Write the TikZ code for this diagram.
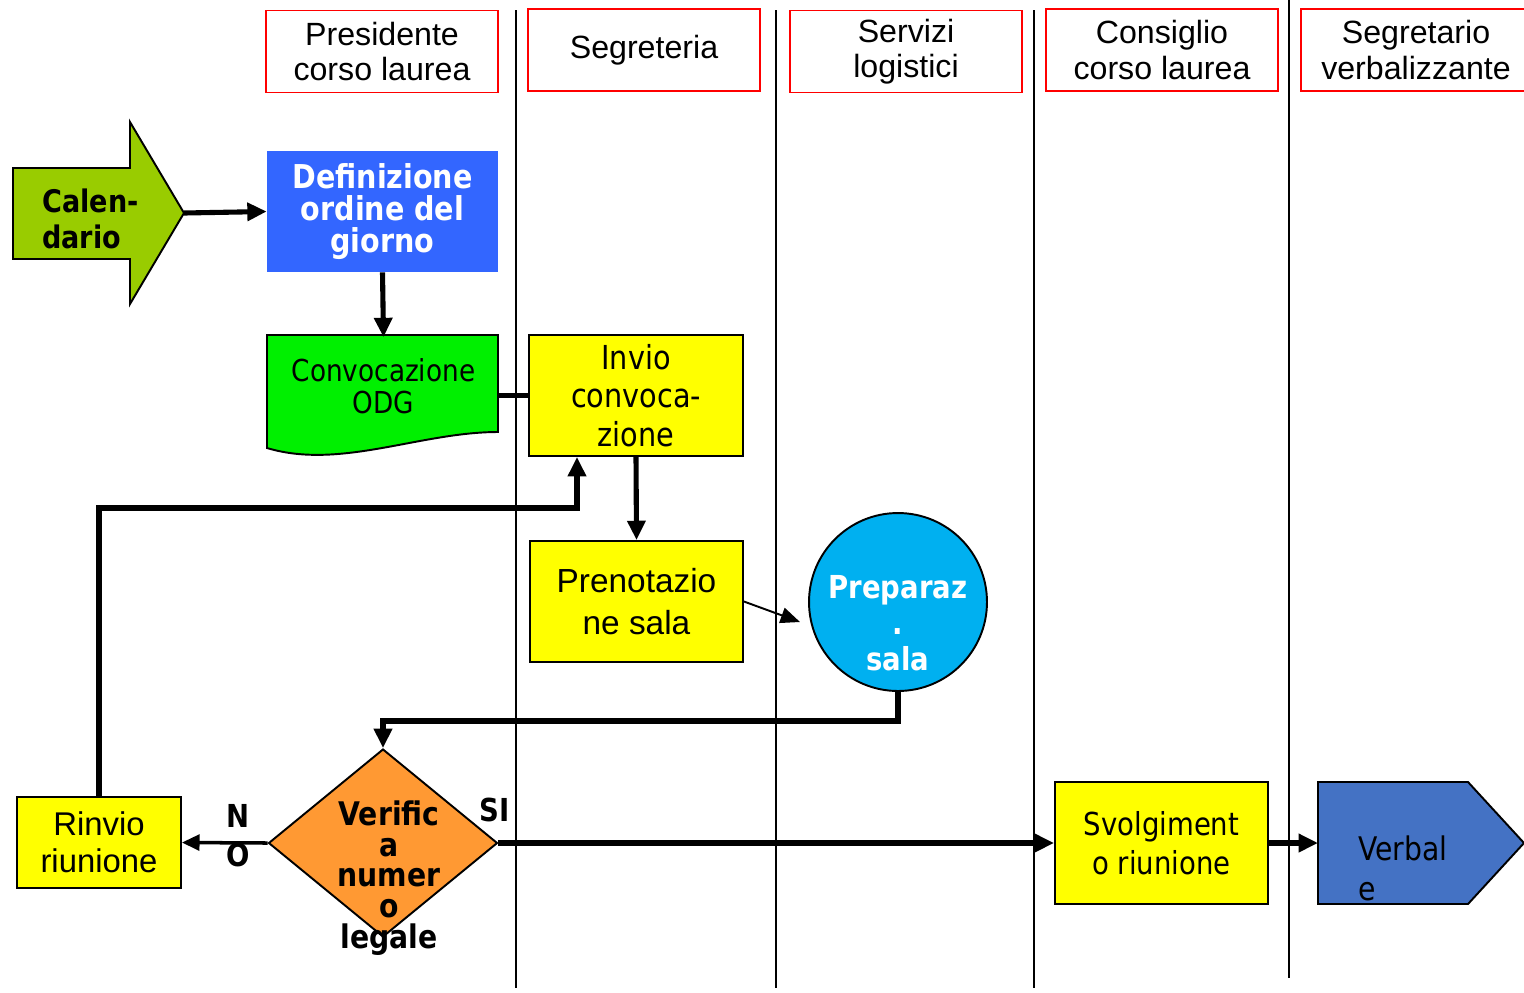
\documentclass[tikz,border=0pt]{standalone}
\usepackage{fontspec}
\setmainfont{Liberation Sans}
\newfontfamily\tah[FakeStretch=0.87]{DejaVu Sans}
\usetikzlibrary{arrows.meta,shapes.geometric}
\definecolor{calgreen}{HTML}{99CC00}
\definecolor{defblue}{HTML}{3366FF}
\definecolor{odggreen}{HTML}{00F000}
\definecolor{yel}{HTML}{FFFF00}
\definecolor{salacyan}{HTML}{00B0F0}
\definecolor{verorange}{HTML}{FF9933}
\definecolor{verbblue}{HTML}{4472C4}
\begin{document}
\begin{tikzpicture}[x=0.02cm,y=-0.02cm,
		lane/.style={line width=1.1pt},
		head/.style={draw=red,line width=1.1pt,minimum width=4.64cm,minimum height=1.64cm,align=center,inner sep=0pt,font=\fontsize{18.3pt}{20pt}\selectfont},
		box/.style={draw,line width=1.1pt,fill=yel,align=center,inner sep=0pt},
		link/.style={line width=2.9pt,-{Triangle[length=11pt,width=10pt]}},
	]
		\useasboundingbox (0,0) rectangle (1524,992);
		\draw[lane] (516,10) -- (516,988);
		\draw[lane] (776,10) -- (776,988);
		\draw[lane] (1034,10) -- (1034,988);
		\draw[lane] (1289,0) -- (1289,978);
		\node[head] (pres) at (382,51.5) {Presidente\\corso laurea};
		\node[head] (segr) at (644,50) {Segreteria};
		\node[head] (serv) at (906,51.5) {Servizi\\logistici};
		\node[head] (cons) at (1162,50) {Consiglio\\corso laurea};
		\node[head,minimum width=4.6cm] (verb) at (1416,50) {Segretario\\verbalizzante};
		\draw[line width=1.1pt,fill=calgreen] (13,168) -- (130,168) -- (130,122) -- (184,213) -- (130,304) -- (130,259) -- (13,259) -- cycle;
		\coordinate (cal) at (184,213);
		\node[anchor=west,align=left,inner sep=0pt,font=\tah\bfseries\fontsize{17.7pt}{20.5pt}\selectfont] (caltxt) at (42,219) {Calen-\\dario};
		\node[fill=defblue,text=white,align=center,inner sep=0pt,minimum width=4.62cm,minimum height=2.42cm,font=\tah\bfseries\fontsize{18.7pt}{18pt}\selectfont] (def) at (382.5,211.5) {Definizione\\ordine del\\giorno};
		\draw[line width=1.1pt,fill=odggreen] (267,335) -- (498,335) -- (498,432) .. controls (420,432) and (340,470) .. (267,448) -- cycle;
		\node[align=center,inner sep=0pt,minimum width=4.62cm,minimum height=1.94cm,font=\tah\fontsize{17.2pt}{18pt}\selectfont] (odg) at (383.5,386) {Convocazione\\ODG};
		\node[box,minimum width=4.28cm,minimum height=2.42cm,font=\tah\fontsize{18.8pt}{22pt}\selectfont] (invio) at (636,395.5) {Invio\\convoca-\\zione};
		\node[box,minimum width=4.26cm,minimum height=2.42cm,font=\fontsize{19pt}{24pt}\selectfont] (pren) at (636.5,601.5) {Prenotazio\\ne sala};
		\node[circle,draw,line width=1.1pt,fill=salacyan,minimum size=3.56cm,inner sep=0pt] (prep) at (898,602) {};
		\node[align=center,text=white,font=\tah\bfseries\fontsize{18pt}{20.4pt}\selectfont] (preptxt) at (898,623) {Preparaz\\.\\sala};
		\coordinate (prepin) at (800,622);
		\node[diamond,draw,line width=1.1pt,fill=verorange,minimum width=4.58cm,minimum height=3.76cm,inner sep=0pt] (ver) at (383,843) {};
		\node[align=center,inner sep=0pt,font=\tah\bfseries\fontsize{18.5pt}{17.5pt}\selectfont] (vertxt) at (389,878) {Verific\\a\\numer\\o\\legale};
		\node[box,minimum width=3.28cm,minimum height=1.82cm,font=\fontsize{18.7pt}{21pt}\selectfont] (rin) at (99,842.5) {Rinvio\\riunione};
		\node[box,minimum width=4.26cm,minimum height=2.44cm,font=\tah\fontsize{18pt}{22pt}\selectfont] (svo) at (1161.5,843) {Svolgiment\\o riunione};
		\draw[line width=1.1pt,fill=verbblue] (1318,782) -- (1468,782) -- (1524,843) -- (1468,904) -- (1318,904) -- cycle;
		\coordinate (verbin) at (1318,843);
		\node[anchor=west,align=left,inner sep=0pt,font=\tah\fontsize{18.5pt}{22.7pt}\selectfont] (verbtxt) at (1358,868) {Verbal\\e};
		\node[inner sep=0pt,font=\tah\bfseries\fontsize{18pt}{20pt}\selectfont] (si) at (495,810) {SI};
		\node[align=center,inner sep=0pt,font=\tah\bfseries\fontsize{18pt}{22pt}\selectfont] (no) at (238,836) {N\\O};
		\coordinate (back) at (577,508);
		\draw[link] (cal) -- (def.west);
		\draw[link] (def.south) -- (odg.north);
		\draw[line width=2.9pt] (odg.east |- invio.west) -- (invio.west);
		\draw[link] (invio.south) -- (pren.north);
		\draw[line width=1.1pt,-{Triangle[length=11pt,width=9pt]}] (pren.east) -- (prepin);
		\draw[link] (prep.south) -- ++(0,29) -| (ver.north);
		\draw[line width=2pt,-{Triangle[length=10pt,width=9pt]}] (ver.west) -- (rin.east);
		\draw[link] (rin.north) |- (back) -- (back |- invio.south);
		\draw[link] (ver.east) -- (svo.west);
		\draw[link] (svo.east) -- (verbin);
	\end{tikzpicture}
\end{document}
